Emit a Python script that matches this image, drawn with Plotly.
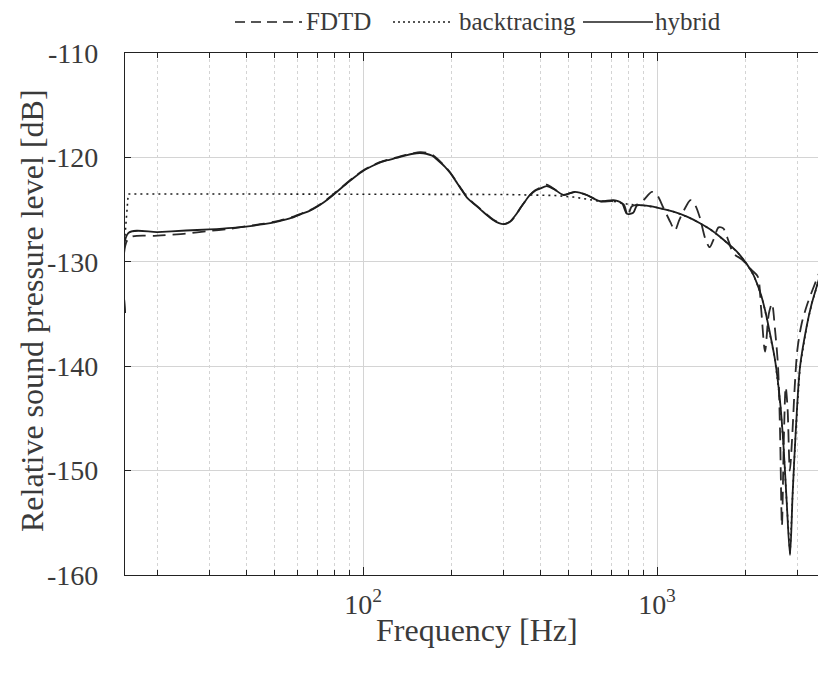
import plotly.graph_objects as go

# ---------------- data ----------------
hybrid_f = [15.5, 15.9, 20, 25, 30, 36, 42, 46, 52, 57, 62, 66, 70, 74, 78, 83, 88, 94, 100, 107,
            114, 122, 130, 140, 148, 156, 164, 172, 180, 190, 198, 206, 214, 225, 237, 250, 263,
            277, 290, 300, 310, 320, 331, 342, 356, 370, 385, 400, 421, 450, 480, 526, 577, 640, 711,
            760, 790, 830, 855, 900, 1000, 1138, 1270, 1400, 1520, 1637, 1750, 1866, 2018, 2123,
            2183, 2260, 2329, 2420, 2520, 2620, 2690, 2760, 2834, 2893, 2970, 3064, 3228, 3360,
            3491, 3630, 3760]
hybrid_db = [-134.9, -127.25, -127.15, -127.0, -126.9, -126.75, -126.55, -126.4, -126.1, -125.8,
             -125.4, -125.1, -124.7, -124.25, -123.75, -123.1, -122.5, -121.85, -121.3, -120.85,
             -120.5, -120.25, -120.05, -119.8, -119.65, -119.6, -119.65, -119.85, -120.3, -120.9,
             -121.5, -122.2, -122.9, -123.8, -124.4, -124.95, -125.5,
             -126.0, -126.3, -126.4, -126.3, -126.0, -125.5, -124.9, -124.2, -123.6, -123.2,
             -123.0, -122.75, -123.1, -123.6, -123.3, -123.6, -124.2, -124.1,
             -124.4, -125.4, -125.3, -124.6, -124.6, -124.8, -125.2, -125.7, -126.3, -126.9,
             -127.6, -128.3, -129.0, -130.2, -131.2,
             -132.0, -133.2, -134.6, -136.8, -139.4, -143.3, -147.4, -152.9, -158.1, -152.2,
             -145.8, -140.1, -136.2, -134.0,
             -132.4, -130.8, -129.7]

fdtd_f = [15.5, 15.9, 20, 25, 30, 35, 40, 46, 52, 57, 62, 66, 70, 74, 78, 83, 88, 94, 100, 107,
          114, 122, 130, 140, 148, 156, 164, 172, 180, 190, 198, 206, 214, 225, 237, 250, 263,
          277, 290, 300, 310, 320, 331, 342, 356, 370, 385, 400, 421, 450, 480, 526, 577, 640,
          711, 770, 795, 820, 860, 900, 960, 1000, 1050, 1110, 1150, 1190, 1260, 1300, 1350,
          1400, 1460, 1510, 1560, 1620, 1680, 1750, 1820, 1950, 2100, 2200, 2260, 2330, 2400,
          2460, 2520, 2580, 2620, 2660, 2700, 2740, 2780, 2830, 2880, 2940, 3000, 3100, 3250,
          3500, 3760]
fdtd_db = [-134.9, -127.8, -127.5, -127.3, -127.05, -126.85, -126.6, -126.35, -126.05, -125.75,
           -125.35, -125.05, -124.65, -124.2, -123.7, -123.05, -122.45, -121.8, -121.25, -120.8,
           -120.45, -120.2, -120.0, -119.75, -119.6, -119.5, -119.55, -119.75, -120.2, -120.85,
           -121.45, -122.15, -122.85, -123.75, -124.35, -124.9, -125.45,
           -125.95, -126.25, -126.4, -126.3, -126.05, -125.55, -124.9, -124.2, -123.6, -123.15,
           -122.9, -122.6, -123.1, -123.6, -123.3, -123.6, -124.2,
           -124.2, -124.5, -125.6, -124.7, -124.5, -124.1, -123.3, -123.6, -124.8, -126.2,
           -127.0, -126.0, -124.6, -124.1, -124.6,
           -125.8, -127.8, -128.6, -127.8, -126.7, -126.8, -128.0, -129.2, -129.8, -130.8,
           -131.4, -134.5, -138.6, -135.0,
           -134.0, -136.5, -140.0, -146.0, -155.3, -147.0, -142.0, -144.0, -150.0, -147.0,
           -142.0, -138.5, -136.0, -134.0, -131.6, -129.4]

backtracing_f = [15.5, 15.9, 30, 100, 200, 300, 450, 520, 577, 640, 711, 800, 900, 1000, 1138,
                 1270, 1400, 1520, 1637, 1750, 1866, 2018, 2123, 2183, 2260, 2329, 2420, 2520,
                 2620, 2690, 2760, 2834, 2893, 2970, 3064, 3228, 3360, 3491, 3630, 3760]
backtracing_db = [-127.5, -123.5, -123.5, -123.5, -123.5, -123.55, -123.65, -123.8, -124.0, -124.2,
                  -124.2, -124.5, -124.6, -124.8, -125.2, -125.7, -126.3, -126.9, -127.6, -128.3,
                  -129.0, -130.2, -131.2, -132.0, -133.2, -134.6, -136.8, -139.4, -143.3, -147.4,
                  -152.9, -158.1, -152.2, -145.8, -140.1, -136.2, -134.0, -132.4, -130.8, -129.7]

y_tick_vals = [-110, -120, -130, -140, -150, -160]
y_tick_labels = ["-110", "-120", "-130", "-140", "-150", "-160"]
x_major_vals = [100, 1000]
x_major_labels = ["10<sup>2</sup>", "10<sup>3</sup>"]
x_minor_vals = [20, 30, 40, 50, 60, 70, 80, 90, 200, 300, 400, 500, 600, 700, 800, 900, 2000, 3000]

series_names = ["FDTD", "backtracing", "hybrid"]
x_title = "Frequency [Hz]"
y_title = "Relative sound pressure level [dB]"

# ---------------- figure ----------------
FONT = "Liberation Serif, Times New Roman, serif"
INK = "#1e1e1e"
TXT = "#3a3a3a"
GRID = "#d4d4d4"

# the page body adds an 8px offset; geometry below is in figure coordinates
OFF = 8
W, H = 818, 674
L, T, R = 125 - OFF, 53 - OFF, 0
B = H - (575 - OFF)
pw, ph = W - L - R, H - T - B

def px(xs):   # screen x -> paper
    return (xs - OFF - L) / pw

def py(ys):   # screen y -> paper
    return (H - B - (ys - OFF)) / ph

fig = go.Figure()
fig.add_trace(go.Scatter(x=backtracing_f, y=backtracing_db, mode="lines", name=series_names[1],
                         line=dict(color=INK, width=1.6, dash="2px,4px"), showlegend=False))
fig.add_trace(go.Scatter(x=fdtd_f, y=fdtd_db, mode="lines", name=series_names[0],
                         line=dict(color="#2a2a2a", width=1.8, dash="13px,7px", shape="spline",
                                   smoothing=0.8), showlegend=False))
fig.add_trace(go.Scatter(x=hybrid_f, y=hybrid_db, mode="lines", name=series_names[2],
                         line=dict(color=INK, width=1.8, shape="spline", smoothing=0.8),
                         showlegend=False))

# manual legend (line samples + labels) above the plot
ly = py(22)
legend_items = [
    (235, 302, dict(color=INK, width=1.6, dash="10px,6px"), 305, series_names[0]),
    (393, 452, dict(color=INK, width=1.3, dash="2px,3px"), 458, series_names[1]),
    (583, 653, dict(color=INK, width=1.6), 654, series_names[2]),
]
for x0, x1, ln, tx, label in legend_items:
    fig.add_shape(type="line", xref="paper", yref="paper", x0=px(x0), x1=px(x1), y0=ly, y1=ly,
                  line=ln)
    fig.add_annotation(xref="paper", yref="paper", x=px(tx), y=ly, text=label, showarrow=False,
                       xanchor="left", yanchor="middle", font=dict(family=FONT, size=25, color=TXT),
                       borderpad=0)

# axis titles
fig.add_annotation(xref="paper", yref="paper", x=px(477), y=py(630), text=x_title, showarrow=False,
                   xanchor="center", yanchor="middle", font=dict(family=FONT, size=32, color=TXT))
fig.add_annotation(xref="paper", yref="paper", x=px(32), y=py(311), text=y_title, showarrow=False,
                   textangle=-90, xanchor="center", yanchor="middle",
                   font=dict(family=FONT, size=32, color=TXT))

fig.update_layout(
    width=W, height=H,
    margin=dict(l=L, r=R, t=T, b=B, autoexpand=False),
    paper_bgcolor="white", plot_bgcolor="white",
    font=dict(family=FONT, color=TXT),
    showlegend=False,
)
fig.update_xaxes(
    type="log", range=[1.1903, 3.5748], automargin=False,
    tickvals=x_major_vals, ticktext=x_major_labels,
    tickfont=dict(family=FONT, size=28, color=TXT),
    ticks="inside", ticklen=8, tickcolor="#222",
    showgrid=True, gridcolor=GRID, gridwidth=1,
    showline=True, linecolor="#222", linewidth=1.2, mirror="ticks",
    minor=dict(tickvals=x_minor_vals, ticks="inside", ticklen=5, tickcolor="#222",
               showgrid=True, gridcolor=GRID, griddash="dot", gridwidth=1),
    ticklabelstandoff=4,
    zeroline=False,
)
fig.update_yaxes(
    range=[-160, -110], automargin=False,
    tickvals=y_tick_vals, ticktext=y_tick_labels,
    tickfont=dict(family=FONT, size=28, color=TXT),
    ticks="inside", ticklen=6, tickcolor="#222",
    showgrid=True, gridcolor=GRID, gridwidth=1,
    showline=True, linecolor="#222", linewidth=1.2, mirror="ticks",
    ticklabelstandoff=20,
    zeroline=False,
)

fig.write_html("out.html")
